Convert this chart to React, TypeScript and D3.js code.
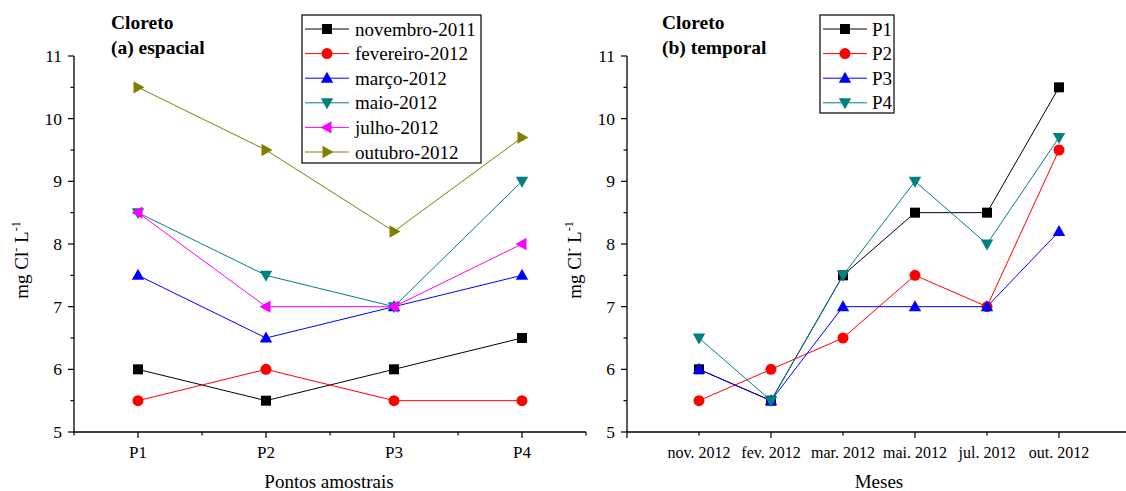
import React from "react";
import * as d3 from "d3";

// Chloride concentration (mg Cl- L-1) per sampling point, one series per campaign
const points = ["P1", "P2", "P3", "P4"];
const campaigns = ["novembro-2011", "fevereiro-2012", "março-2012", "maio-2012", "julho-2012", "outubro-2012"];
const monthLabels = ["nov. 2012", "fev. 2012", "mar. 2012", "mai. 2012", "jul. 2012", "out. 2012"];
const novembro2011 = [6, 5.5, 6, 6.5];
const fevereiro2012 = [5.5, 6, 5.5, 5.5];
const marco2012 = [7.5, 6.5, 7, 7.5];
const maio2012 = [8.5, 7.5, 7, 9];
const julho2012 = [8.5, 7, 7, 8];
const outubro2012 = [10.5, 9.5, 8.2, 9.7];
const yTicks = [5, 6, 7, 8, 9, 10, 11];

const campaignValues = [novembro2011, fevereiro2012, marco2012, maio2012, julho2012, outubro2012];
// temporal view: the same table read by sampling point
const pointValues = points.map((_, pi) => campaignValues.map((s) => s[pi]));

type Shape = "square" | "circle" | "up" | "down" | "left" | "right";
const styles: { color: string; shape: Shape }[] = [
  { color: "#000000", shape: "square" },
  { color: "#ff0000", shape: "circle" },
  { color: "#0000ff", shape: "up" },
  { color: "#008080", shape: "down" },
  { color: "#ff00ff", shape: "left" },
  { color: "#808000", shape: "right" },
];

const FONT = "Liberation Serif";

function Marker({ x, y, shape, color }: { x: number; y: number; shape: Shape; color: string }) {
  const r = 5.5;
  if (shape === "square") return <rect x={x - 5} y={y - 5} width={10} height={10} fill={color} />;
  if (shape === "circle") return <circle cx={x} cy={y} r={5.5} fill={color} />;
  let pts: [number, number][] = [];
  if (shape === "up") pts = [[x, y - r - 1], [x - r - 0.7, y + r - 1], [x + r + 0.7, y + r - 1]];
  if (shape === "down") pts = [[x, y + r + 1], [x - r - 0.7, y - r + 1], [x + r + 0.7, y - r + 1]];
  if (shape === "left") pts = [[x - r - 1, y], [x + r - 1, y - r - 0.7], [x + r - 1, y + r + 0.7]];
  if (shape === "right") pts = [[x + r + 1, y], [x - r + 1, y - r - 0.7], [x - r + 1, y + r + 0.7]];
  return <polygon points={pts.map((p) => p.join(",")).join(" ")} fill={color} />;
}

const yTop = 56;
const yBottom = 432;
const y = d3.scaleLinear().domain([5, 11]).range([yBottom, yTop]);

function YAxis({ x0 }: { x0: number }) {
  const minor = d3.range(5.5, 11, 1);
  return (
    <g>
      <line x1={x0} x2={x0} y1={yTop} y2={yBottom} stroke="#000" strokeWidth={1.3} />
      {yTicks.map((t) => (
        <g key={t}>
          <line x1={x0 - 6} x2={x0} y1={y(t)} y2={y(t)} stroke="#000" strokeWidth={1.2} />
          <text x={x0 - 12} y={y(t) + 6} textAnchor="end" fontSize={17.5} fontFamily={FONT}>
            {t}
          </text>
        </g>
      ))}
      {minor.map((t) => (
        <line key={t} x1={x0 - 3.5} x2={x0} y1={y(t)} y2={y(t)} stroke="#000" strokeWidth={1.2} />
      ))}
    </g>
  );
}

function XTicks({ scale, major, minor }: { scale: d3.ScaleLinear<number, number>; major: number[]; minor: number[] }) {
  return (
    <g>
      {major.map((t) => (
        <line key={`M${t}`} x1={scale(t)} x2={scale(t)} y1={yBottom} y2={yBottom + 6} stroke="#000" strokeWidth={1.2} />
      ))}
      {minor.map((t) => (
        <line key={`m${t}`} x1={scale(t)} x2={scale(t)} y1={yBottom} y2={yBottom + 3.5} stroke="#000" strokeWidth={1.2} />
      ))}
    </g>
  );
}

function YLabel({ cx }: { cx: number }) {
  return (
    <text
      transform={`translate(${cx},260) rotate(-90)`}
      textAnchor="middle"
      fontSize={19}
      fontFamily={FONT}
    >
      mg Cl
      <tspan dy={-8} fontSize={12}>-</tspan>
      <tspan dy={8}> L</tspan>
      <tspan dy={-8} fontSize={12}>-1</tspan>
    </text>
  );
}

function Title({ x, sub }: { x: number; sub: string }) {
  return (
    <g fontFamily={FONT} fontWeight="bold" fontSize={19.5}>
      <text x={x} y={29}>Cloreto</text>
      <text x={x} y={54}>{sub}</text>
    </g>
  );
}

function Legend({
  x0, y0, w, h, names, lineX1, lineX2, textX,
}: {
  x0: number; y0: number; w: number; h: number; names: string[]; lineX1: number; lineX2: number; textX: number;
}) {
  const rowStep = 24.6;
  return (
    <g>
      <rect x={x0} y={y0} width={w} height={h} fill="#fff" stroke="#000" strokeWidth={1.2} />
      {names.map((n, i) => {
        const cy = y0 + 14 + i * rowStep;
        const st = styles[i];
        return (
          <g key={n}>
            <line x1={lineX1} x2={lineX2} y1={cy} y2={cy} stroke={st.color} strokeWidth={1} />
            <Marker x={(lineX1 + lineX2) / 2} y={cy} shape={st.shape} color={st.color} />
            <text x={textX} y={cy + 6.5} fontSize={19} fontFamily={FONT}>
              {n}
            </text>
          </g>
        );
      })}
    </g>
  );
}

function Series({ xs, ys, idx }: { xs: number[]; ys: number[]; idx: number }) {
  const st = styles[idx];
  const line = d3.line<number>().x((_, i) => xs[i]).y((v) => y(v));
  return (
    <g>
      <path d={line(ys) || ""} fill="none" stroke={st.color} strokeWidth={1} />
      {ys.map((v, i) => (
        <Marker key={i} x={xs[i]} y={y(v)} shape={st.shape} color={st.color} />
      ))}
    </g>
  );
}

export default function App() {
  // spatial panel
  const xA = d3.scaleLinear().domain([0.5, 4.5]).range([74, 586]);
  const xAPos = points.map((_, i) => xA(i + 1));
  // temporal panel
  const xB = d3.scaleLinear().domain([0, 7]).range([627, 1131]);
  const xBPos = monthLabels.map((_, i) => xB(i + 1));

  return (
    <svg width={1126} height={491} style={{ position: "absolute", left: 0, top: 0, background: "#fff" }}>
      <rect width={1126} height={491} fill="#fff" />
      {/* (a) espacial */}
      <Title x={111} sub="(a) espacial" />
      <YAxis x0={74} />
      <YLabel cx={28} />
      <line x1={74} x2={586} y1={yBottom} y2={yBottom} stroke="#000" strokeWidth={1.3} />
      <XTicks scale={xA} major={[1, 2, 3, 4]} minor={[0.5, 1.5, 2.5, 3.5, 4.5]} />
      {points.map((p, i) => (
        <text key={p} x={xAPos[i]} y={yBottom + 26} textAnchor="middle" fontSize={17} fontFamily={FONT}>
          {p}
        </text>
      ))}
      <text x={329} y={488} textAnchor="middle" fontSize={19} fontFamily={FONT}>
        Pontos amostrais
      </text>
      {campaignValues.map((vals, i) => (
        <Series key={i} xs={xAPos} ys={vals} idx={i} />
      ))}
      <Legend x0={302} y0={15} w={179} h={148} names={campaigns} lineX1={305} lineX2={349} textX={355} />

      {/* (b) temporal */}
      <Title x={662} sub="(b) temporal" />
      <YAxis x0={627} />
      <YLabel cx={581} />
      <line x1={627} x2={1126} y1={yBottom} y2={yBottom} stroke="#000" strokeWidth={1.3} />
      <XTicks scale={xB} major={[0, 2, 4, 6]} minor={[1, 3, 5]} />
      {monthLabels.map((m, i) => (
        <text key={m} x={xBPos[i]} y={yBottom + 26} textAnchor="middle" fontSize={16} fontFamily={FONT}>
          {m}
        </text>
      ))}
      <text x={879} y={488} textAnchor="middle" fontSize={19} fontFamily={FONT}>
        Meses
      </text>
      {pointValues.map((vals, i) => (
        <Series key={i} xs={xBPos} ys={vals} idx={i} />
      ))}
      <Legend x0={820} y0={15} w={74} h={98} names={points} lineX1={823} lineX2={867} textX={872} />
    </svg>
  );
}
